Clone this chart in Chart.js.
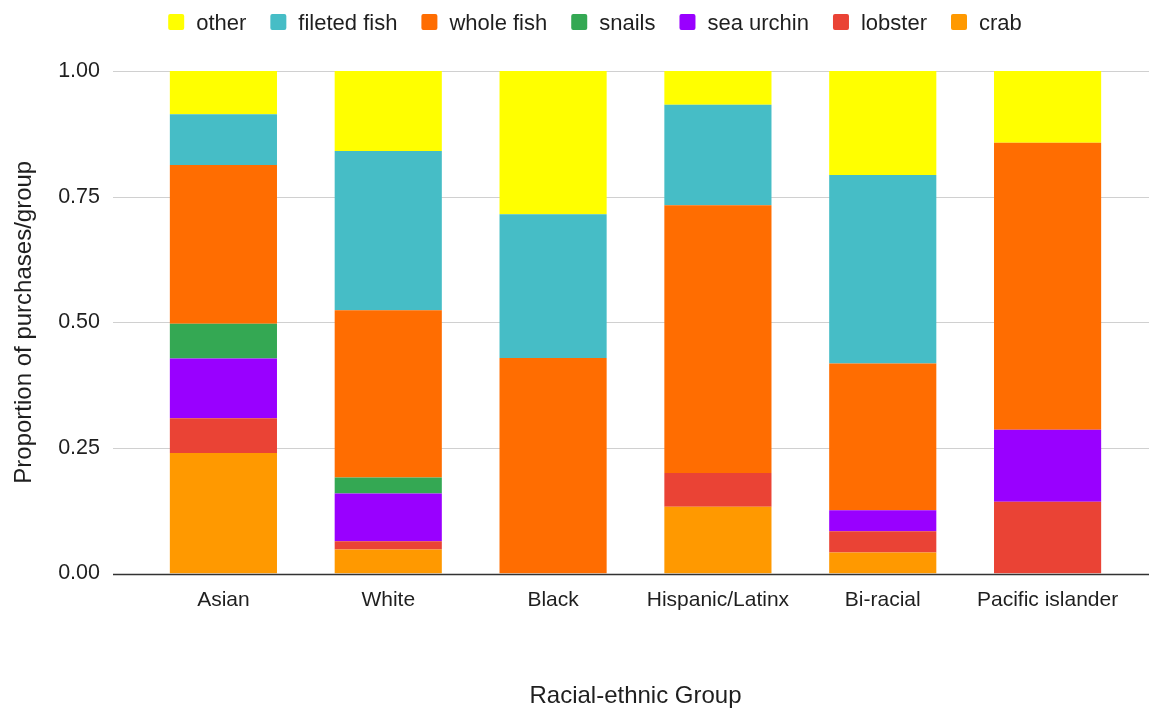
<!DOCTYPE html>
<html>
<head>
<meta charset="utf-8">
<title>Seafood purchases by racial-ethnic group</title>
<script src="https://cdn.jsdelivr.net/npm/chart.js@4.4.1/dist/chart.umd.min.js"></script>
<style>
  html, body { margin: 0; padding: 0; background: #ffffff; overflow: hidden; }
  #wrap { width: 1149px; height: 709px; position: relative; }
</style>
</head>
<body>
<div id="wrap"><canvas id="chart" width="1149" height="709"></canvas></div>
<script>
// Categories along the x axis
const groups = ['Asian', 'White', 'Black', 'Hispanic/Latinx', 'Bi-racial', 'Pacific islander'];

// Share of purchases in each group, stacked bottom to top
const crab        = [0.240, 0.048, 0.000, 0.133, 0.042, 0.000];
const lobster     = [0.069, 0.016, 0.000, 0.067, 0.042, 0.143];
const seaUrchin   = [0.119, 0.095, 0.000, 0.000, 0.042, 0.143];
const snails      = [0.069, 0.032, 0.000, 0.000, 0.000, 0.000];
const wholeFish   = [0.316, 0.333, 0.429, 0.533, 0.292, 0.571];
const filetedFish = [0.101, 0.317, 0.286, 0.200, 0.375, 0.000];
const other       = [0.086, 0.159, 0.285, 0.067, 0.207, 0.143];

// Y axis tick values
const yTicks = [0, 0.25, 0.5, 0.75, 1];

const FONT = '"Liberation Sans", Arial, sans-serif';
const TEXT = '#1f1f1f';

const series = [
  { label: 'crab',         data: crab,        color: '#FF9900' },
  { label: 'lobster',      data: lobster,     color: '#EA4335' },
  { label: 'sea urchin',   data: seaUrchin,   color: '#9900FF' },
  { label: 'snails',       data: snails,      color: '#34A853' },
  { label: 'whole fish',   data: wholeFish,   color: '#FF6D01' },
  { label: 'fileted fish', data: filetedFish, color: '#46BDC6' },
  { label: 'other',        data: other,       color: '#FFFF00' }
];

// Horizontal gridlines that run past the plot edges, plus the dark baseline
const wideGrid = {
  id: 'wideGrid',
  beforeDatasetsDraw(chart) {
    const { ctx } = chart;
    const y = chart.scales.y;
    const x0 = 113, x1 = 1149;
    ctx.save();
    yTicks.forEach(v => {
      if (v === 0) return;
      const py = Math.round(y.getPixelForValue(v)) + 0.5;
      ctx.beginPath();
      ctx.moveTo(x0, py);
      ctx.lineTo(x1, py);
      ctx.strokeStyle = '#d0d0d0';
      ctx.lineWidth = 1;
      ctx.stroke();
    });
    ctx.restore();
  },
  afterDatasetsDraw(chart) {
    // baseline drawn over the foot of the bars
    const { ctx } = chart;
    const py = Math.round(chart.scales.y.getPixelForValue(0)) + 0.5;
    ctx.save();
    ctx.beginPath();
    ctx.moveTo(113, py);
    ctx.lineTo(1149, py);
    ctx.strokeStyle = '#333333';
    ctx.lineWidth = 1.5;
    ctx.stroke();
    ctx.restore();
  }
};

// Single-row legend across the top, listed from the top segment down
const topLegend = {
  id: 'topLegend',
  afterDraw(chart) {
    const { ctx } = chart;
    const items = chart.data.datasets.slice().reverse();
    const box = 16, textGap = 12, itemGap = 24, cy = 22, centerX = 595;
    ctx.save();
    ctx.font = '22px ' + FONT;
    ctx.textBaseline = 'middle';
    ctx.textAlign = 'left';
    const widths = items.map(d => box + textGap + ctx.measureText(d.label).width);
    const total = widths.reduce((a, b) => a + b, 0) + itemGap * (items.length - 1);
    let x = centerX - total / 2;
    items.forEach((d, i) => {
      ctx.fillStyle = d.backgroundColor;
      ctx.beginPath();
      if (ctx.roundRect) ctx.roundRect(x, cy - box / 2, box, box, 2);
      else ctx.rect(x, cy - box / 2, box, box);
      ctx.fill();
      ctx.fillStyle = TEXT;
      ctx.fillText(d.label, x + box + textGap, cy + 1.5);
      x += widths[i] + itemGap;
    });
    ctx.restore();
  }
};

new Chart(document.getElementById('chart'), {
  type: 'bar',
  data: {
    labels: groups,
    datasets: series.map(s => ({
      label: s.label,
      data: s.data,
      backgroundColor: s.color,
      borderWidth: 0,
      barPercentage: 0.65,
      categoryPercentage: 1.0
    }))
  },
  options: {
    responsive: false,
    animation: false,
    layout: { padding: { top: 71, right: 19, bottom: 0, left: 0 } },
    plugins: {
      legend: { display: false },
      tooltip: { enabled: false }
    },
    scales: {
      x: {
        stacked: true,
        grid: { display: false, drawTicks: false },
        border: { display: false },
        ticks: {
          color: TEXT,
          font: { family: FONT, size: 21 },
          padding: 14,
          maxRotation: 0,
          autoSkip: false
        },
        title: {
          display: true,
          text: 'Racial-ethnic Group',
          color: TEXT,
          font: { family: FONT, size: 24, lineHeight: 1.05 },
          padding: { top: 0, bottom: 0 }
        },
        afterFit(scale) { scale.height = 135.5; }
      },
      y: {
        stacked: true,
        min: 0,
        max: 1,
        grid: { display: false, drawTicks: false },
        border: { display: false },
        afterBuildTicks(scale) { scale.ticks = yTicks.map(v => ({ value: v })); },
        ticks: {
          color: TEXT,
          font: { family: FONT, size: 21.5 },
          padding: 41,
          callback: v => Number(v).toFixed(2)
        },
        title: {
          display: true,
          text: 'Proportion of purchases/group',
          color: TEXT,
          font: { family: FONT, size: 24 },
          padding: { top: 9.5, bottom: 0 }
        },
        afterFit(scale) { scale.width = 141; }
      }
    }
  },
  plugins: [wideGrid, topLegend]
});
</script>
</body>
</html>
